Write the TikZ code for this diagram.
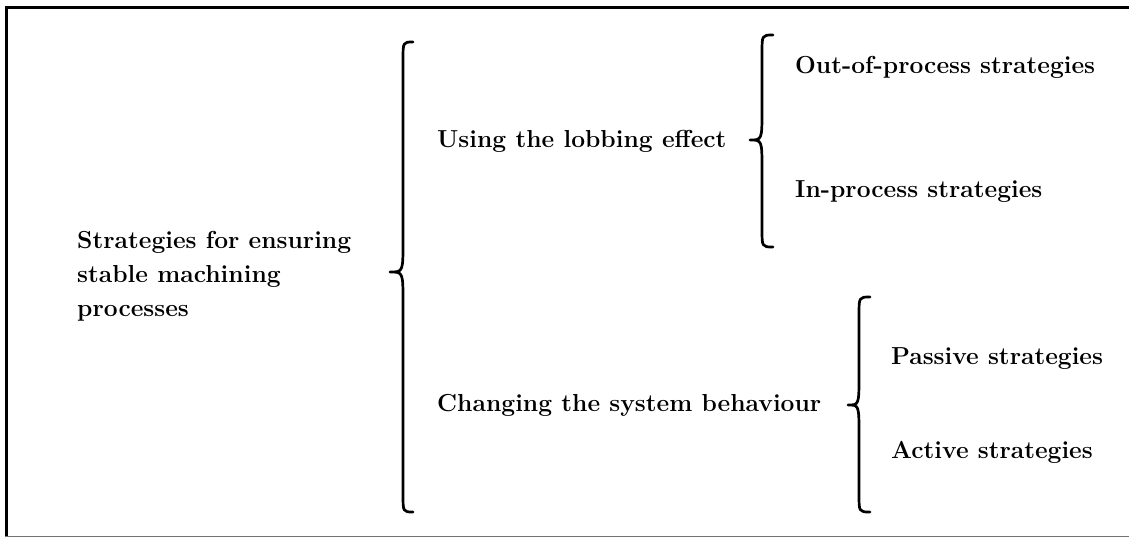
\documentclass[tikz,border=0pt]{standalone}
\begin{document}
\begin{tikzpicture}[x=1pt,y=-1pt,
  label/.style={anchor=west,inner sep=0pt,font=\fontsize{24.6}{34}\selectfont\bfseries,align=left},
  brace/.style={line width=2.7pt,line cap=round,line join=round}]
\useasboundingbox (0,0) rectangle (1129,537);
% frame: heavy top and left rules, light bottom rule
\draw[line width=3pt] (6.5,537) -- (6.5,7.5) -- (1129,7.5);
\draw[line width=1pt,black!55] (5,536) -- (1129,536);

% labels
\node[label] (root) at (77,276) {Strategies for ensuring\\stable machining\\processes};
\node[label] (lob) at (437,141) {Using the lobbing effect};
\node[label] (out) at (795,67) {Out-of-process strategies};
\node[label] (inp) at (795,192) {In-process strategies};
\node[label] (chg) at (437,405) {Changing the system behaviour};
\node[label] (pas) at (891,359) {Passive strategies};
\node[label] (act) at (891,452) {Active strategies};

% curly braces: ends at xe, spine at xv, point at xt
\def\bracepath#1#2#3#4#5#6{%
  \draw[brace] (#1,#4) .. controls (#2,#4) .. (#2,#4+18)
    -- (#2,#5-30) .. controls (#2,#5) .. (#3,#5)
    .. controls (#2,#5) .. (#2,#5+30)
    -- (#2,#6-18) .. controls (#2,#6) .. (#1,#6);}
\bracepath{413}{403}{390}{42}{272}{512}
\bracepath{773}{762}{750}{35}{140}{247}
\bracepath{870}{859}{848}{297}{405}{512}
\end{tikzpicture}
\end{document}
